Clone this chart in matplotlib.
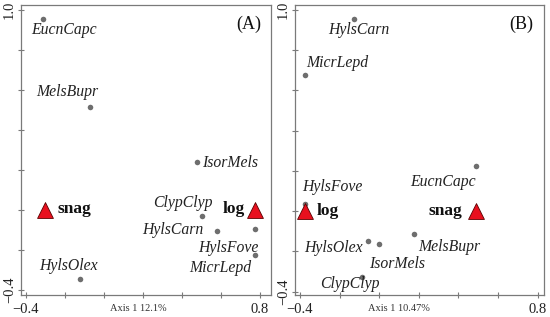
import matplotlib
matplotlib.use("Agg")
import matplotlib.pyplot as plt
import numpy as np

plt.rcParams['font.family'] = ['Liberation Serif', 'DejaVu Serif']

# ---- data ----
species_a = ["EucnCapc", "MelsBupr", "IsorMels", "ClypClyp", "HylsCarn",
             "HylsFove", "MicrLepd", "HylsOlex"]
axis1_a = [-0.313, -0.072, 0.477, 0.503, 0.579, 0.774, 0.774, -0.123]
axis2_a = [0.955, 0.515, 0.240, -0.030, -0.105, -0.095, -0.225, -0.345]
groups_a = ["snag", "log"]
g_axis1_a = [-0.303, 0.774]
g_axis2_a = [0.0, 0.0]

species_b = ["HylsCarn", "MicrLepd", "EucnCapc", "HylsFove", "MelsBupr",
             "HylsOlex", "IsorMels", "ClypClyp"]
axis1_b = [-0.127, -0.376, 0.489, -0.376, 0.176, -0.055, 0.000, -0.085]
axis2_b = [0.955, 0.675, 0.222, 0.037, -0.113, -0.150, -0.162, -0.328]
groups_b = ["log", "snag"]
g_axis1_b = [-0.375, 0.490]
g_axis2_b = [0.0, 0.0]

xticks = [-0.4, -0.2, 0.0, 0.2, 0.4, 0.6, 0.8]
yticks = [-0.4, -0.2, 0.0, 0.2, 0.4, 0.6, 0.8, 1.0]
xlabel_a = "Axis 1 12.1%"
xlabel_b = "Axis 1 10.47%"

# ---- label offsets (pixels) ----
off_a = {"EucnCapc": (21.5, -11), "MelsBupr": (-22.5, 15), "IsorMels": (33, -1),
         "ClypClyp": (-19, 13), "HylsCarn": (-44.5, 1), "HylsFove": (-26.5, -19),
         "MicrLepd": (-34.5, -13), "HylsOlex": (-11.5, 13)}
goff_a = {"snag": (29.5, 1), "log": (-21, 1)}
off_b = {"HylsCarn": (4.5, -11), "MicrLepd": (33, 12), "EucnCapc": (-33.5, -16),
         "HylsFove": (28, 17), "MelsBupr": (35.5, -13), "HylsOlex": (-35, -7),
         "IsorMels": (17.5, -20), "ClypClyp": (-12, -7)}
goff_b = {"log": (23, 0), "snag": (-31, 0)}

fig = plt.figure(figsize=(5.5, 3.17), dpi=100)
W, H = 550, 317

def make_ax(l, r, b, t):
    return fig.add_axes([l / W, 1 - b / H, (r - l) / W, (b - t) / H])

axA = make_ax(21, 271, 295, 5)
axB = make_ax(295, 544, 295, 5)

spine_col = "#7a7a7a"
dot_col = "#6e6e6e"

def draw(ax, sp, x, y, grp, gx, gy, off, goff, xlim, ylim, xlabel, lab_xfrac, panel):
    ax.set_xlim(*xlim)
    ax.set_ylim(*ylim)
    for s in ax.spines.values():
        s.set_color(spine_col)
        s.set_linewidth(0.9)
    ax.set_xticks(xticks)
    ax.set_yticks(yticks)
    ax.set_xticklabels(["\u22120.4" if np.isclose(v, -0.4) else ("0.8" if np.isclose(v, 0.8) else "") for v in xticks])
    ax.set_yticklabels(["\u22120.4" if np.isclose(v, -0.4) else ("1.0" if np.isclose(v, 1.0) else "") for v in yticks],
                       rotation=90, va="center")
    ax.tick_params(axis="both", direction="inout", length=4, width=0.8, color=spine_col,
                   labelsize=10.5, labelcolor="#222222", pad=1.5)
    ax.tick_params(axis="x", pad=4)
    ax.scatter(x, y, s=16, color=dot_col, zorder=3, linewidths=0)
    for name, xi, yi in zip(sp, x, y):
        dx, dy = off[name]
        ax.annotate(name, (xi, yi), xytext=(dx, dy), textcoords="offset pixels",
                    ha="center", va="center", fontsize=11.3, style="italic", color="#222222")
    ax.scatter(gx, gy, s=130, marker="^", color="#e8101e", edgecolors="#5a0000",
               linewidths=0.6, zorder=4)
    for name, xi, yi in zip(grp, gx, gy):
        dx, dy = goff[name]
        ax.annotate(name, (xi, yi), xytext=(dx, dy), textcoords="offset pixels",
                    ha="center", va="center", fontsize=12.5, fontweight="bold", color="#111111")
    ax.text(lab_xfrac, -0.03, xlabel, transform=ax.transAxes, ha="center", va="top",
            fontsize=7.5, color="#333333")
    ax.text(0.91, 0.935, panel, transform=ax.transAxes, ha="center", va="center",
            fontsize=13, color="#111111")

draw(axA, species_a, axis1_a, axis2_a, groups_a, g_axis1_a, g_axis2_a, off_a, goff_a,
     (-0.4256, 0.856), (-0.425, 1.025), xlabel_a, 0.468, "(A)")
draw(axB, species_b, axis1_b, axis2_b, groups_b, g_axis1_b, g_axis2_b, off_b, goff_b,
     (-0.425, 0.832), (-0.417, 1.025), xlabel_b, 0.418, "(B)")

fig.savefig("out.png", dpi=100)
